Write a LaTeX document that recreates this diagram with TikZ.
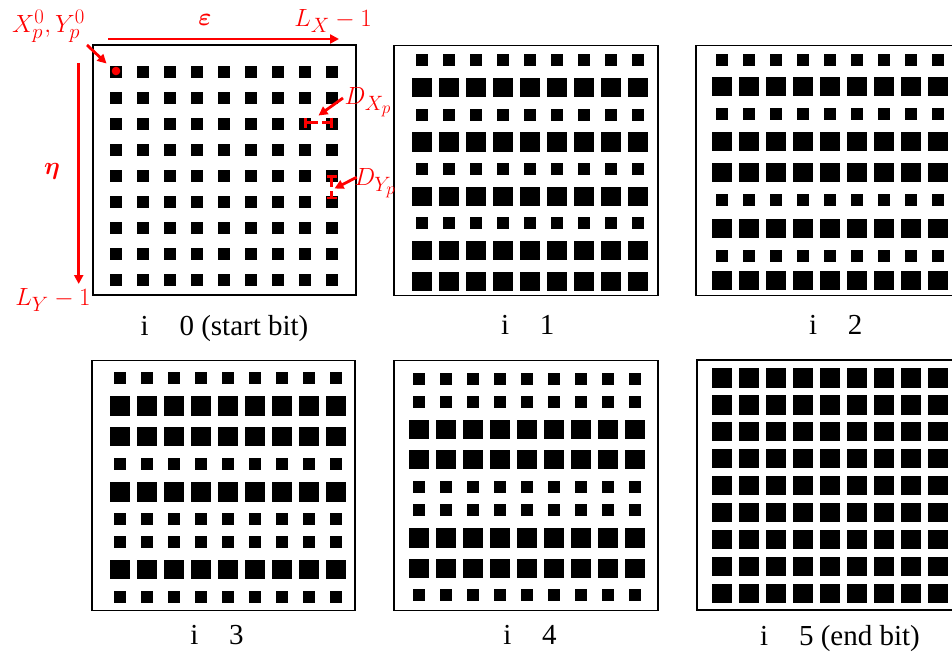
\documentclass[tikz,border=0pt]{standalone}
\usepackage{amsmath}
\usepackage{fontspec}
\setmainfont{Liberation Serif}
\usetikzlibrary{arrows.meta}
\DeclareMathSizes{27}{27}{20}{16}
\newcommand\Sm{11.7}
\newcommand\Lg{19.3}
\newcommand\dotrow[3]{\foreach \k in {0,...,8}{\fill[sq] ({#1+27*\k-#3/2},{#2-#3/2}) rectangle ++(#3,#3);}}
\newcommand\panelrows[2]{\foreach \yy/\ss in {#2}{\dotrow{#1}{\yy}{\ss}}}
\begin{document}
\begin{tikzpicture}[x=1pt,y=-1pt,
  sq/.style={fill=black},
  frame/.style={draw=black,line width=1.2pt,inner sep=0pt,minimum width=#1,minimum height=250pt},
  lbl/.style={font=\fontsize{29}{34}\selectfont,anchor=base,inner sep=0pt},
  mlbl/.style={text=red,font=\fontsize{27}{31}\selectfont,inner sep=0pt},
  ann/.style={draw=red,line width=2.8pt,-{Triangle[length=9pt,width=9pt]}},
  dim/.style={draw=red,line width=2.6pt,{Bar[width=10pt,line width=2.6pt]}-{Bar[width=10pt,line width=2.6pt]}}]
\useasboundingbox (0,0) rectangle (952,652);
\clip (0,0) rectangle (952,652);
% frames
\node[frame=263pt] (f0) at (224.5,170) {};
\node[frame=264pt] (f1) at (526,170.5) {};
\node[frame=264pt] (f2) at (828,170.5) {};
\node[frame=263pt] (f3) at (223.5,485.5) {};
\node[frame=264pt] (f4) at (526,485.5) {};
\node[frame=264pt] (f5) at (829,485) {};
% squares
\panelrows{116}{72/\Sm,98/\Sm,124/\Sm,150/\Sm,176/\Sm,202/\Sm,228/\Sm,254/\Sm,280/\Sm}
\panelrows{422}{60/\Sm,87.3/\Lg,114.7/\Sm,142/\Lg,169.3/\Sm,196.3/\Lg,223.3/\Sm,250.3/\Lg,281.3/\Lg}
\panelrows{722}{60/\Sm,86.3/\Lg,114/\Sm,141.7/\Lg,172.3/\Lg,200/\Sm,228.3/\Lg,256/\Sm,280.7/\Lg}
\panelrows{120}{378/\Sm,406/\Lg,436.7/\Lg,463.7/\Sm,492/\Lg,519/\Sm,541.7/\Sm,569.7/\Lg,596.7/\Sm}
\panelrows{419}{379/\Sm,401.7/\Sm,429.7/\Lg,459.7/\Lg,486.7/\Sm,509.7/\Sm,538/\Lg,568.7/\Lg,595.3/\Sm}
\panelrows{722}{378/\Lg,404.9/\Lg,431.8/\Lg,458.7/\Lg,485.6/\Lg,512.5/\Lg,539.4/\Lg,566.3/\Lg,593.2/\Lg}
% captions
\node[lbl] (t0) at (224.5,335) {i \phantom{=} 0 (start bit)};
\node[lbl] (t1) at (527.8,334) {i \phantom{=} 1};
\node[lbl] (t2) at (835.8,334) {i \phantom{=} 2};
\node[lbl] (t3) at (217,644) {i \phantom{=} 3};
\node[lbl] (t4) at (530,644) {i \phantom{=} 4};
\node[lbl] (t5) at (840,645) {i \phantom{=} 5 (end bit)};
% red annotations
\fill[red] (116,71) circle (4.3);
\node[mlbl] (xy) at (48.5,26) {$X_p^0,Y_p^0$};
\node[mlbl] (eps) at (205,20) {$\boldsymbol{\varepsilon}$};
\node[mlbl] (lx) at (333,21) {$L_X-1$};
\node[mlbl] (eta) at (52,171) {$\boldsymbol{\eta}$};
\node[mlbl] (ly) at (53,300) {$L_Y-1$};
\node[mlbl] (dx) at (368,102) {$D_{X_p}$};
\node[mlbl] (dy) at (375,183) {$D_{Y_p}$};
\coordinate (c1s) at (87,45);  \coordinate (c1e) at (106.5,63.5);
\coordinate (hs) at (108,39);  \coordinate (he) at (339,39);
\coordinate (vs) at (78.7,63); \coordinate (ve) at (78.7,284);
\coordinate (dxs) at (343,98); \coordinate (dxe) at (318.5,115.5);
\coordinate (dys) at (356.7,177.3); \coordinate (dye) at (334.5,188.5);
\draw[ann] (c1s) -- (c1e);
\draw[ann] (hs) -- (he);
\draw[ann] (vs) -- (ve);
\draw[ann] (dxs) -- (dxe);
\draw[ann] (dys) -- (dye);
\coordinate (bx1) at (304,122.7); \coordinate (bx2) at (332.5,122.7);
\coordinate (by1) at (331.7,175.5); \coordinate (by2) at (331.7,199.5);
\draw[dim,dash pattern=on 12.2pt off 4pt] (bx1) -- (bx2);
\draw[dim,dash pattern=on 10pt off 4pt] (by1) -- (by2);
\end{tikzpicture}
\end{document}
